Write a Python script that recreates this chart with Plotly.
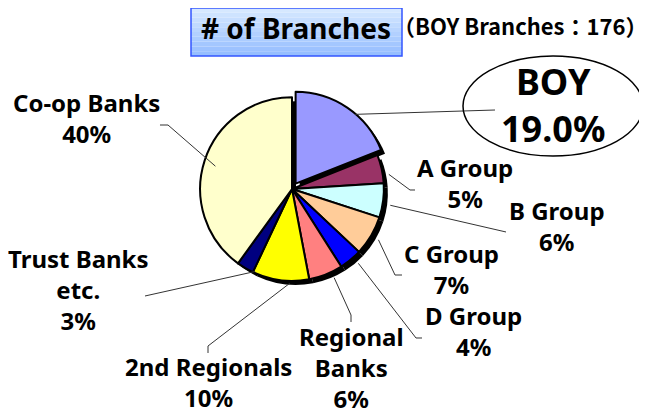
import numpy as np
import plotly.graph_objects as go

W, H = 647, 414

# data
segments = ['BOY', 'A Group', 'B Group', 'C Group', 'D Group',
            'Regional<br>Banks', '2nd Regionals', 'Trust Banks<br>etc.', 'Co-op Banks']
shares = [19.0, 5, 6, 7, 4, 6, 10, 3, 40]
share_labels = ['19.0%', '5%', '6%', '7%', '4%', '6%', '10%', '3%', '40%']
colors = ['#9999ff', '#993366', '#ccffff', '#ffcc99', '#0000ff',
          '#ff8080', '#ffff00', '#000080', '#ffffcc']
pulls = [0.07, 0, 0, 0, 0, 0, 0, 0, 0]
total_branches = 176


def px(x):
    return x / W


def py(y):
    return 1 - y / H


# pie geometry in pixels (where it should land)
cx, cy, R = 293, 186, 90
# plotly places the pie a little off the domain centre when a slice is pulled
dom_dx, dom_dy = -9, -5
half = R * (1 + max(pulls)) + 2
shadow_dx, shadow_dy = 4, 4

fig = go.Figure()

dcx, dcy = cx + dom_dx, cy + dom_dy
fig.add_trace(go.Pie(
    values=shares, labels=segments, sort=False, direction='clockwise',
    pull=pulls, textinfo='none', hoverinfo='skip', showlegend=False,
    marker=dict(colors=['black'] * len(shares), line=dict(width=0)),
    domain=dict(x=[px(dcx + shadow_dx - half), px(dcx + shadow_dx + half)],
                y=[py(dcy + shadow_dy + half), py(dcy + shadow_dy - half)]),
))

fig.add_trace(go.Pie(
    values=shares, labels=segments, sort=False, direction='clockwise',
    pull=pulls, textinfo='none', hoverinfo='skip', showlegend=False,
    marker=dict(colors=colors, line=dict(color='black', width=2)),
    domain=dict(x=[px(dcx - half), px(dcx + half)],
                y=[py(dcy + half), py(dcy - half)]),
))

# label positions (block centres, px) and leader-line label ends
label_pos = [(545, 106), (457, 184), (549, 227), (443, 270), (465, 332),
             (343, 368), (200, 383), (70, 290), (78, 119)]
text_dy = -9
leader_pts = [[(487, 102)],
              [(402, 182), (407, 182)],
              [(498, 224)],
              [(387, 267), (394, 267)],
              [(408, 330), (414, 330)],
              [(343, 307), (343, 314)],
              [(200, 338), (200, 345)],
              [(137, 288)],
              [(160, 117), (152, 117)]]

shapes = []
frac = np.cumsum(shares) / sum(shares)
starts = np.concatenate([[0], frac[:-1]])
for i, seg in enumerate(segments):
    mid = (starts[i] + frac[i]) / 2 * 2 * np.pi
    r0 = R * (1 + pulls[i])
    x0 = cx + r0 * np.sin(mid)
    y0 = cy - r0 * np.cos(mid)
    pts = [(x0, y0)] + leader_pts[i]
    path = 'M ' + ' L '.join(f'{px(a):.5f},{py(b):.5f}' for a, b in pts)
    shapes.append(dict(type='path', xref='paper', yref='paper', path=path,
                       line=dict(color='#333333', width=1)))

annotations = []
for i, seg in enumerate(segments):
    if i == 0:
        continue
    x, y = label_pos[i]
    annotations.append(dict(
        x=px(x), y=py(y + text_dy), xref='paper', yref='paper', showarrow=False,
        text=f'{seg}<br>{share_labels[i]}', align='center',
        xanchor='center', yanchor='middle',
        font=dict(family='Noto Sans', size=24, color='black', weight='bold')))

# BOY callout in ellipse
shapes.append(dict(type='circle', xref='paper', yref='paper',
                   x0=px(455), x1=px(635), y0=py(148), y1=py(48),
                   line=dict(color='black', width=1.5)))
bx, by = label_pos[0]
annotations.append(dict(
    x=px(bx), y=py(by - 9), xref='paper', yref='paper', showarrow=False,
    text=f'{segments[0]}<br>{share_labels[0]}', align='center',
    xanchor='center', yanchor='middle',
    font=dict(family='Noto Sans', size=36, color='black', weight='bold')))

# title box with gradient
bands = 10
top_c = np.array([214, 232, 255])
bot_c = np.array([150, 190, 255])
for k in range(bands):
    t = k / (bands - 1)
    c = (top_c * (1 - t) + bot_c * t).astype(int)
    shapes.append(dict(type='rect', xref='paper', yref='paper',
                       x0=px(183), x1=px(394),
                       y0=py(48 * (k + 1) / bands), y1=py(48 * k / bands),
                       fillcolor=f'rgb({c[0]},{c[1]},{c[2]})', line=dict(width=0),
                       layer='below'))
shapes.append(dict(type='rect', xref='paper', yref='paper',
                   x0=px(183), x1=px(394), y0=py(48), y1=py(0),
                   line=dict(color='#3355ff', width=1.5)))

annotations.append(dict(
    x=px(288), y=1, xref='paper', yref='paper', showarrow=False,
    text='# of Branches', xanchor='center', yanchor='top', borderpad=0,
    font=dict(family='Noto Sans', size=28, color='black', weight='bold')))
annotations.append(dict(
    x=px(640), y=1, xref='paper', yref='paper', showarrow=False,
    text=f'（BOY Branches：{total_branches}）', xanchor='right', yanchor='top',
    borderpad=0,
    font=dict(family='Noto Sans CJK JP', size=22, color='black', weight='bold')))

fig.update_layout(
    width=W, height=H,
    margin=dict(l=0, r=0, t=0, b=0),
    paper_bgcolor='white', plot_bgcolor='white',
    shapes=shapes, annotations=annotations,
)

fig.write_html('out.html')
